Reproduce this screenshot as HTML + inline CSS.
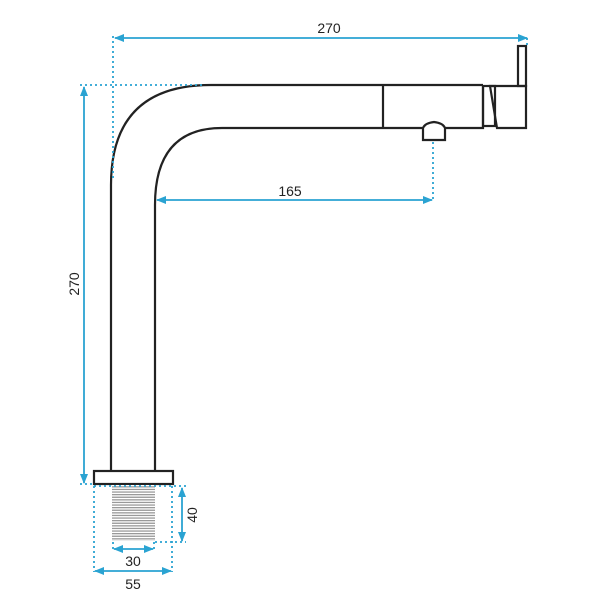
<!DOCTYPE html>
<html><head><style>body{margin:0;background:#fff}svg{display:block}</style></head><body>
<svg width="600" height="600" viewBox="0 0 600 600" xmlns="http://www.w3.org/2000/svg">
<defs>
<marker id="a" markerWidth="10" markerHeight="8" refX="9" refY="4" orient="auto-start-reverse" markerUnits="userSpaceOnUse"><path d="M0,0 L10,4 L0,8 Z" fill="#2aa3d2"/></marker>
<pattern id="th" width="4" height="2.6" patternUnits="userSpaceOnUse"><rect width="4" height="2.6" fill="#fff"/><rect width="4" height="1.3" fill="#999"/></pattern>
</defs>
<g fill="none" stroke="#222" stroke-width="2.2">
<path d="M111,471 V185 Q111,85 211,85 H483"/>
<path d="M155,471 V205 Q155,128 222,128 H423"/>
<path d="M445,128 H483 V85"/>
<line x1="383" y1="85" x2="383" y2="128"/>
<rect x="483" y="86" width="12" height="40"/>
<path d="M490,86 H526 V128 H497 Z"/>
<rect x="518" y="46" width="8" height="40"/>
<path d="M423,128 Q425,123 434,122 Q443,123 445,128 V140 H423 Z"/>
<rect x="94" y="471" width="79" height="13" fill="#fff"/>
</g>
<rect x="112" y="485" width="43" height="56" fill="url(#th)"/>
<g stroke="#2aa3d2" stroke-width="1.8" fill="none">
<g stroke-dasharray="2,3">
<line x1="113" y1="36" x2="113" y2="180"/>
<line x1="80" y1="85" x2="205" y2="85"/>
<line x1="433" y1="142" x2="433" y2="200"/>
<line x1="94" y1="486" x2="94" y2="572"/>
<line x1="172" y1="486" x2="172" y2="572"/>
<line x1="94" y1="486" x2="186" y2="486"/>
<line x1="155" y1="542" x2="186" y2="542"/>
<line x1="113" y1="542" x2="113" y2="552"/>
<line x1="154" y1="542" x2="154" y2="552"/>
<line x1="80" y1="484" x2="94" y2="484"/>
<line x1="527" y1="38" x2="527" y2="46"/>
</g>
<line x1="115" y1="38" x2="527" y2="38" marker-start="url(#a)" marker-end="url(#a)"/>
<line x1="84" y1="87" x2="84" y2="483" marker-start="url(#a)" marker-end="url(#a)"/>
<line x1="157" y1="200" x2="432" y2="200" marker-start="url(#a)" marker-end="url(#a)"/>
<line x1="182" y1="488" x2="182" y2="541" marker-start="url(#a)" marker-end="url(#a)"/>
<line x1="114" y1="549" x2="153" y2="549" marker-start="url(#a)" marker-end="url(#a)"/>
<line x1="95" y1="571" x2="171" y2="571" marker-start="url(#a)" marker-end="url(#a)"/>
</g>
<g font-family="Liberation Sans, sans-serif" font-size="14" fill="#222" text-anchor="middle">
<text x="329" y="33">270</text>
<text x="290" y="196">165</text>
<text x="133" y="566">30</text>
<text x="133" y="589">55</text>
<text transform="translate(79,284) rotate(-90)">270</text>
<text transform="translate(197,515) rotate(-90)">40</text>
</g>
</svg>
</body></html>
